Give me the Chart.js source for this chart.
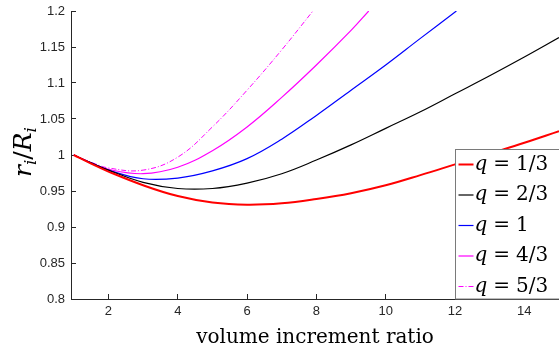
<!DOCTYPE html>
<html>
<head>
<meta charset="utf-8">
<script src="https://cdn.jsdelivr.net/npm/chart.js@4.4.1/dist/chart.umd.min.js"></script>
<style>
html, body { margin: 0; padding: 0; background: #fff; }
#chart_wrap { width: 559px; height: 354px; position: relative; }
</style>
</head>
<body>
<div id="chart_wrap"><canvas id="ratio_chart"></canvas></div>
<script>
// r_i/R_i against volume increment ratio, one curve per q
const q_labels = ["1/3", "2/3", "1", "4/3", "5/3"];

const x_q_1_3 = [1, 1.5, 2, 3, 4, 5, 6, 7, 8, 9, 10, 11, 12, 13, 14, 15];
const y_q_1_3 = [1, 0.988, 0.977, 0.958, 0.943, 0.934, 0.931, 0.933, 0.939, 0.947, 0.958, 0.972, 0.987, 1.002, 1.017, 1.033];

const x_q_2_3 = [1, 1.5, 2, 3, 4, 5, 6, 7, 8, 9, 10, 11, 12, 13, 14, 15];
const y_q_2_3 = [1, 0.989, 0.979, 0.962, 0.9535, 0.9535, 0.961, 0.974, 0.993, 1.014, 1.037, 1.060, 1.085, 1.110, 1.136, 1.163];

const x_q_1 = [1, 1.5, 2, 3, 4, 5, 6, 7, 8, 9, 10, 11, 12.04];
const y_q_1 = [1, 0.989, 0.979, 0.967, 0.968, 0.978, 0.995, 1.022, 1.055, 1.090, 1.125, 1.162, 1.2];

const x_q_4_3 = [1, 1.5, 2, 3, 4, 5, 6, 7, 8, 9, 9.51];
const y_q_4_3 = [1, 0.989, 0.980, 0.974, 0.983, 1.006, 1.039, 1.080, 1.125, 1.173, 1.2];

const x_q_5_3 = [1, 1.5, 2, 3, 4, 5, 6, 7, 7.9];
const y_q_5_3 = [1, 0.990, 0.982, 0.979, 0.997, 1.039, 1.090, 1.146, 1.2];

const x_tick_values = [2, 4, 6, 8, 10, 12, 14];
const y_tick_values = [0.8, 0.85, 0.9, 0.95, 1, 1.05, 1.1, 1.15, 1.2];
const y_tick_labels = ["0.8", "0.85", "0.9", "0.95", "1", "1.05", "1.1", "1.15", "1.2"];

const axis_colour = "#262626";
const tick_font = { family: "'Liberation Sans', Arial, sans-serif", size: 13 };
const math_family = "'DejaVu Serif', serif";

function toPoints(xs, ys) {
    return xs.map((x, i) => ({ x: x, y: ys[i] }));
}

function makeSeries(label, xs, ys, colour, width, dash) {
    return {
        label: label,
        data: toPoints(xs, ys),
        borderColor: colour,
        backgroundColor: colour,
        borderWidth: width,
        borderDash: dash,
        pointRadius: 0,
        tension: 0.4,
        fill: false
    };
}

// y axis title r_i / R_i drawn piece by piece (subscripts)
const y_title_plugin = {
    id: "y_title",
    afterDraw(chart) {
        const ctx = chart.ctx;
        const big = 25, small = 17;
        const parts = [
            { t: "r", font: `italic ${big}px ${math_family}`, dy: 0 },
            { t: "i", font: `italic ${small}px ${math_family}`, dy: 5 },
            { t: "/", font: `${big}px ${math_family}`, dy: 0 },
            { t: "R", font: `italic ${big}px ${math_family}`, dy: 0 },
            { t: "i", font: `italic ${small}px ${math_family}`, dy: 5 }
        ];
        ctx.save();
        let total = 0;
        for (const p of parts) { ctx.font = p.font; p.w = ctx.measureText(p.t).width; total += p.w; }
        ctx.translate(31, 152);
        ctx.rotate(-Math.PI / 2);
        ctx.fillStyle = "#000";
        ctx.textBaseline = "alphabetic";
        let x = -total / 2;
        for (const p of parts) {
            ctx.font = p.font;
            ctx.fillText(p.t, x, p.dy);
            x += p.w;
        }
        ctx.restore();
    }
};

// legend box in the lower right corner, drawn over the curves
const legend_plugin = {
    id: "q_legend",
    afterDatasetsDraw(chart) {
        const ctx = chart.ctx;
        const area = chart.chartArea;
        const box_left = 455.5, box_top = 149.5;
        const row_gap = 30.5;
        ctx.save();
        ctx.fillStyle = "#fff";
        ctx.fillRect(box_left, box_top, area.right - box_left, area.bottom - box_top);
        ctx.strokeStyle = "#7a7a7a";
        ctx.lineWidth = 1;
        ctx.strokeRect(box_left, box_top, area.right - box_left + 2, area.bottom - box_top);
        chart.data.datasets.forEach((ds, i) => {
            const y = box_top + 15 + i * row_gap;
            ctx.strokeStyle = ds.borderColor;
            ctx.lineWidth = ds.borderWidth;
            ctx.setLineDash(ds.borderDash || []);
            ctx.beginPath();
            ctx.moveTo(box_left + 3, y);
            ctx.lineTo(box_left + 18, y);
            ctx.stroke();
            ctx.setLineDash([]);
            ctx.fillStyle = "#000";
            ctx.textBaseline = "middle";
            let x = box_left + 19;
            ctx.font = `italic 20px ${math_family}`;
            ctx.fillText("q", x, y);
            x += ctx.measureText("q").width + 6;
            ctx.font = `20px ${math_family}`;
            ctx.fillText("=", x, y);
            x += ctx.measureText("=").width + 6;
            ctx.fillText(q_labels[i], x, y);
        });
        ctx.restore();
    }
};

const ratio_chart = new Chart(document.getElementById("ratio_chart"), {
    type: "line",
    data: {
        datasets: [
            makeSeries("q = " + q_labels[0], x_q_1_3, y_q_1_3, "#ff0000", 2, []),
            makeSeries("q = " + q_labels[1], x_q_2_3, y_q_2_3, "#000000", 1.2, []),
            makeSeries("q = " + q_labels[2], x_q_1, y_q_1, "#0000ff", 1.2, []),
            makeSeries("q = " + q_labels[3], x_q_4_3, y_q_4_3, "#ff00ff", 1.2, []),
            makeSeries("q = " + q_labels[4], x_q_5_3, y_q_5_3, "#ff00ff", 1, [5, 2, 1, 2])
        ]
    },
    options: {
        responsive: true,
        maintainAspectRatio: false,
        animation: false,
        devicePixelRatio: 1,
        layout: { padding: { top: 11, right: 0, left: 0, bottom: 0 } },
        plugins: {
            legend: { display: false },
            tooltip: { enabled: false }
        },
        scales: {
            x: {
                type: "linear",
                min: 0.92,
                max: 15,
                afterBuildTicks: (scale) => { scale.ticks = x_tick_values.map(v => ({ value: v })); },
                afterFit: (scale) => { scale.height = 55; scale.paddingLeft = 0; scale.paddingRight = 0; },
                ticks: {
                    color: axis_colour,
                    font: tick_font,
                    padding: 10,
                    maxRotation: 0,
                    callback: (v) => String(v)
                },
                grid: {
                    drawOnChartArea: false,
                    drawTicks: true,
                    tickLength: -5,
                    color: axis_colour
                },
                border: { color: axis_colour, width: 1 },
                title: {
                    display: true,
                    text: "volume increment ratio",
                    color: "#000",
                    font: { family: math_family, size: 20 },
                    padding: { top: 0, bottom: 4 }
                }
            },
            y: {
                type: "linear",
                min: 0.8,
                max: 1.2,
                afterBuildTicks: (scale) => { scale.ticks = y_tick_values.map(v => ({ value: v })); },
                afterFit: (scale) => { scale.width = 71; scale.paddingTop = 0; scale.paddingBottom = 0; },
                ticks: {
                    color: axis_colour,
                    font: tick_font,
                    padding: 11,
                    callback: (v) => {
                        const k = y_tick_values.findIndex(t => Math.abs(t - v) < 1e-9);
                        return k >= 0 ? y_tick_labels[k] : "";
                    }
                },
                grid: {
                    drawOnChartArea: false,
                    drawTicks: true,
                    tickLength: -5,
                    color: axis_colour
                },
                border: { color: axis_colour, width: 1 }
            }
        }
    },
    plugins: [legend_plugin, y_title_plugin]
});
</script>
</body>
</html>
